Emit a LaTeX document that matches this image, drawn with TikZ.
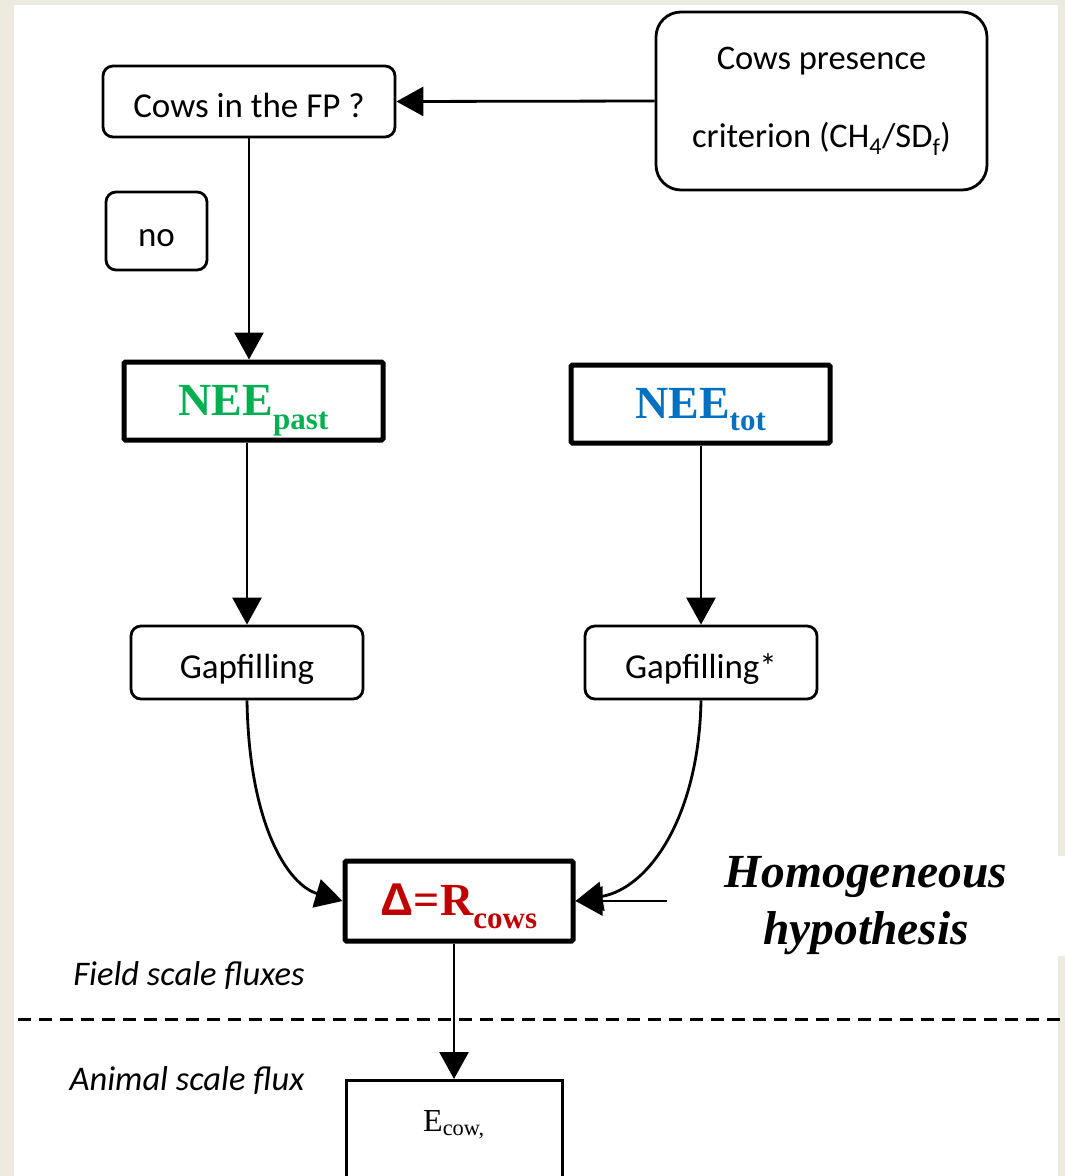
\documentclass[tikz,border=0pt]{standalone}
\usepackage{fontspec}
\setmainfont{Liberation Serif}
\setsansfont{Liberation Sans}
\newfontfamily\calib{Carlito}
\usetikzlibrary{arrows.meta}
\definecolor{bg}{HTML}{EDEADF}
\definecolor{neegreen}{HTML}{00B050}
\definecolor{neeblue}{HTML}{0070C0}
\definecolor{deltared}{HTML}{C00000}
\newcommand\lowsub[2]{\raisebox{-#1}{\fontsize{31}{31}\selectfont #2}}
\begin{document}
\begin{tikzpicture}[x=1pt,y=-1pt,
  rbox/.style={draw, line width=2.8pt, rounded corners=10pt, inner sep=0pt,
    font=\calib\fontsize{35}{37}\selectfont},
  onel/.style={text height=31pt, text depth=0pt},
  tbox/.style={draw, line width=5pt, rounded corners=1.5pt, inner sep=0pt,
    minimum width=259pt, minimum height=78pt, text height=30pt, text depth=2pt,
    font=\fontsize{46}{50}\selectfont\bfseries},
  arr/.style={line width=2.8pt, -{Triangle[length=27pt,width=29pt]}},
  lbl/.style={font=\calib\itshape\fontsize{34.5}{36}\selectfont, inner sep=0pt}]
\useasboundingbox (0,0) rectangle (1065,1176);
\clip (0,0) rectangle (1065,1176);
\fill[bg] (0,0) rectangle (1065,1176);
\fill[white] (14,5) rectangle (1058,1176);

\node[rbox, onel, minimum width=292pt, minimum height=71pt] (fp) at (249,101.5) {Cows in the FP ?};
\node[rbox, onel, minimum width=101pt, minimum height=78pt] (no) at (156.5,231) {no};
\node[rbox, rounded corners=25pt, minimum width=331pt, minimum height=178pt, align=center,
  font=\calib\fontsize{34.5}{78}\selectfont] (crit) at (821.5,101)
  {Cows presence\\criterion (CH\textsubscript{4}/SD\textsubscript{f})};

\node[tbox, text=neegreen] (neepast) at (253.5,401) {NEE\lowsub{14pt}{past}};
\node[tbox, text=neeblue] (neetot) at (700.5,404) {NEE\lowsub{12pt}{tot}};

\node[rbox, onel, minimum width=232pt, minimum height=73pt] (gf1) at (247,662.5) {Gapfilling};
\node[rbox, onel, minimum width=232pt, minimum height=73pt] (gf2) at (701,662.5) {Gapfilling*};

\node[tbox, minimum width=228pt, minimum height=80pt, text=deltared] (delta) at (459,901)
  {{\sffamily Δ}=R\lowsub{13pt}{cows}};

\node[fill=white, inner sep=0pt, minimum width=398pt, minimum height=100pt, align=center,
  font=\fontsize{47.5}{57}\selectfont\bfseries\itshape] (hyp) at (866,906) {Homogeneous\\hypothesis};

\node[draw, line width=3pt, inner sep=0pt, minimum width=216pt, text height=51pt, text depth=70pt,
  anchor=north, font=\fontsize{32}{34}\selectfont] (ecow) at (454,1079) {E\textsubscript{cow,}};

\node[lbl] (fsf) at (189,976) {Field scale fluxes};
\node[lbl] (asf) at (187,1081) {Animal scale flux};

\draw[line width=3pt, dash pattern=on 13pt off 8pt] (18,1019) -- (1065,1019);

\draw[arr] (crit.west) -- (fp.east);
\draw[arr] (fp.south) -- (fp.south |- neepast.north);
\draw[arr] (gf1.north |- neepast.south) -- (gf1.north);
\draw[arr] (gf2.north |- neetot.south) -- (gf2.north);
\draw[arr] (gf1.south) .. controls (249,825) and (288,885) .. (delta.west);
\draw[arr] (gf2.south) .. controls (699,815) and (650,888) .. (delta.east);
\draw[arr] (hyp.west |- delta.east) -- (delta.east);
\draw[arr] (ecow.north |- delta.south) -- (ecow.north);
\end{tikzpicture}
\end{document}
